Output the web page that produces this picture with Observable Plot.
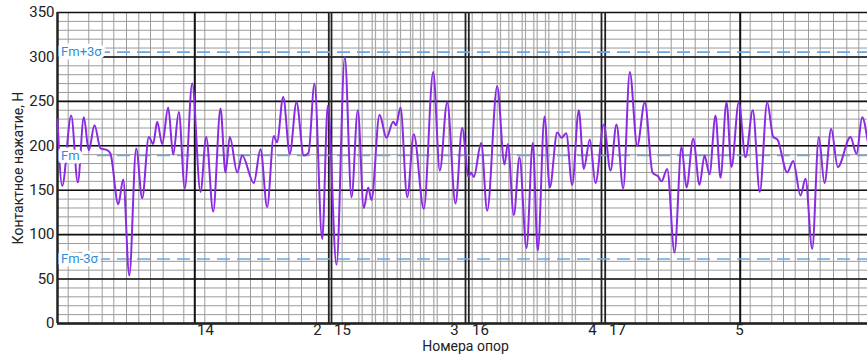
<!DOCTYPE html>
<html><head><meta charset="utf-8">
<script src="https://cdn.jsdelivr.net/npm/d3@7"></script>
<script src="https://cdn.jsdelivr.net/npm/@observablehq/plot@0.6"></script>
<style>
html,body{margin:0;padding:0;background:#fff;}
</style>
</head><body><div id="chart"></div>
<script>
// Distance along the span, m
const posM = [0,2.35,6.85,10.15,13.15,15.65,18.5,21.5,24.85,26.5,30.4,32.85,35.9,39.35,42.35,45.65,47.85,49.85,52.35,55.35,57.85,60.65,63.65,67.35,71.5,74.35,77.85,81.5,84,86.15,89.85,92.35,98.15,101.5,104.85,108.15,109.75,112.85,116.15,119.5,123.15,125.5,128.5,132.35,135.15,139.5,143.65,147,150.15,153.15,155.35,157,161,164.5,167.85,169.25,171.5,174.85,178.15,183.15,187.85,191.15,194.85,199,202.35,205.5,206.75,208.15,211.85,214.85,219.85,223.5,225.15,228.15,231,234.5,237.65,240.15,243.5,246.15,249.85,252,254.35,257.35,260.65,263.15,266.15,269,273.15,276.5,279.5,282.85,286.15,289.85,293.65,297.5,300.5,302,304.85,308.5,312,314.5,317.85,321,323.5,326,329,331.5,334.5,337,340.65,344,347.65,351.15,354.85,357.85,360,364.85,367.85,371.5,374,377.35,380.65,383.5,386.85,390.15,396.5,399.5,402.35,405];
// Contact force, N
const force = [230,155,234,159,232,195,223,197,195,191,134,162,54,197,141,210,202,227,202,243,190,238,152,270,148,210,126,242,170,210,170,189,158,196,131,211,204,255,191,249,189,192,270,95,245,66,300,142,240,130,153,139,235,209,227,223,243,142,213,129,283,172,249,135,220,165,170,165,203,127,267,179,202,122,187,85,203,82,233,153,215,209,214,156,240,174,207,158,224,172,224,152,283,200,249,170,165,160,174,80,199,153,208,156,189,168,234,164,249,176,249,187,240,148,249,210,207,170,183,144,163,84,210,158,219,176,210,191,232,206];

const minorGridM = [5.35,15.65,22.35,28.15,34.5,40.65,46.5,52.85,63.15,73.65,84.35,90.65,96.5,102.35,109,115.65,122,129.5,288.85,294.65,300.5,306.85,313,318.85,325.5,336.35,346.35,357.15,363,368.85,375.5,381.35,388,394.65,400.65];
const dropperGridM = [142.35,150.65,152.35,157.35,159,163.15,164.85,169.85,171.5,176.5,177.65,181.5,183.15,188.15,189.85,195.65,197.35,207.35,212.35,219.85,221.5,225.65,227.35,232.35,234,238.15,239.85,244,245.65,250.65,252.35,257.35,259,267.35];
const supportSingleM = [68.65, 341.35];
const supportDoubleM = [135.65, 137, 204, 205.65, 272, 273.85];
const supportLabels = ["14","2","15","3","16","4","17","5"];
const supportLabelPosM = [74, 130, 142.5, 198.5, 211.5, 267.5, 280, 341];

const Fm = 189, sigma = 38.8;
const levelNames = ["Fm+3σ", "Fm", "Fm-3σ"];
const levelValues = [Fm + 3 * sigma, Fm, Fm - 3 * sigma];
const yTicks = [0, 50, 100, 150, 200, 250, 300, 350];
const yMinor = d3.range(0, 351, 10);

const series = posM.map((x, i) => ({x, y: force[i]}));
const levels = levelNames.map((n, i) => ({n, v: levelValues[i]}));
const xl = supportLabels.map((t, i) => ({t, x: supportLabelPosM[i]}));

const FONT = "Roboto,'Liberation Sans Narrow','DejaVu Sans Condensed',sans-serif";

const chart = Plot.plot({
  width: 867, height: 358,
  marginLeft: 57, marginRight: 0, marginTop: 12, marginBottom: 35,
  style: {fontFamily: FONT, background: "#fff", color: "#222"},
  x: {domain: [0, 405], axis: null},
  y: {domain: [0, 350], axis: null},
  marks: [
    Plot.ruleY(yMinor, {stroke: "#9a9a9a", strokeWidth: 1}),
    Plot.ruleX(minorGridM, {stroke: "#9a9a9a", strokeWidth: 1}),
    Plot.ruleX(dropperGridM, {stroke: "#a8a8a8", strokeWidth: 1.2}),
    Plot.ruleY(yTicks, {stroke: "#111", strokeWidth: 1.6}),
    Plot.ruleX(supportSingleM, {stroke: "#111", strokeWidth: 2}),
    Plot.ruleX(supportDoubleM, {stroke: "#222", strokeWidth: 1.8}),
    Plot.ruleY([0], {stroke: "#222", strokeWidth: 2.5}),
    Plot.ruleX([0], {stroke: "#222", strokeWidth: 2.5}),
    Plot.ruleY(levels, {y: "v", x1: 20, x2: 405, stroke: "#6aa8e4", strokeWidth: 1.6, strokeDasharray: "13,7"}),
    Plot.line(series, {x: "x", y: "y", stroke: "#8a2be2", strokeWidth: 2, curve: "monotone-x"}),
    Plot.text(levels, {x: 1.8, y: "v", text: "n", textAnchor: "start", fill: "#2f8ddb", stroke: "white", strokeWidth: 7, fontSize: 13}),
    Plot.text(yTicks, {x: 0, y: d => d, text: d => String(d), textAnchor: "end", dx: -3, fontSize: 15, fill: "#222"}),
    Plot.text(xl, {x: "x", text: "t", frameAnchor: "bottom", dy: 11, fontSize: 15, fill: "#222"}),
    Plot.text(["Номера опор"], {x: 204, frameAnchor: "bottom", dy: 27, fontSize: 14, fill: "#222"}),
    Plot.text(["Контактное нажатие, Н"], {frameAnchor: "left", textAnchor: "middle", dx: -39, rotate: -90, fontSize: 14, fill: "#222"})
  ]
});
document.getElementById("chart").appendChild(chart);
</script>
</body></html>
